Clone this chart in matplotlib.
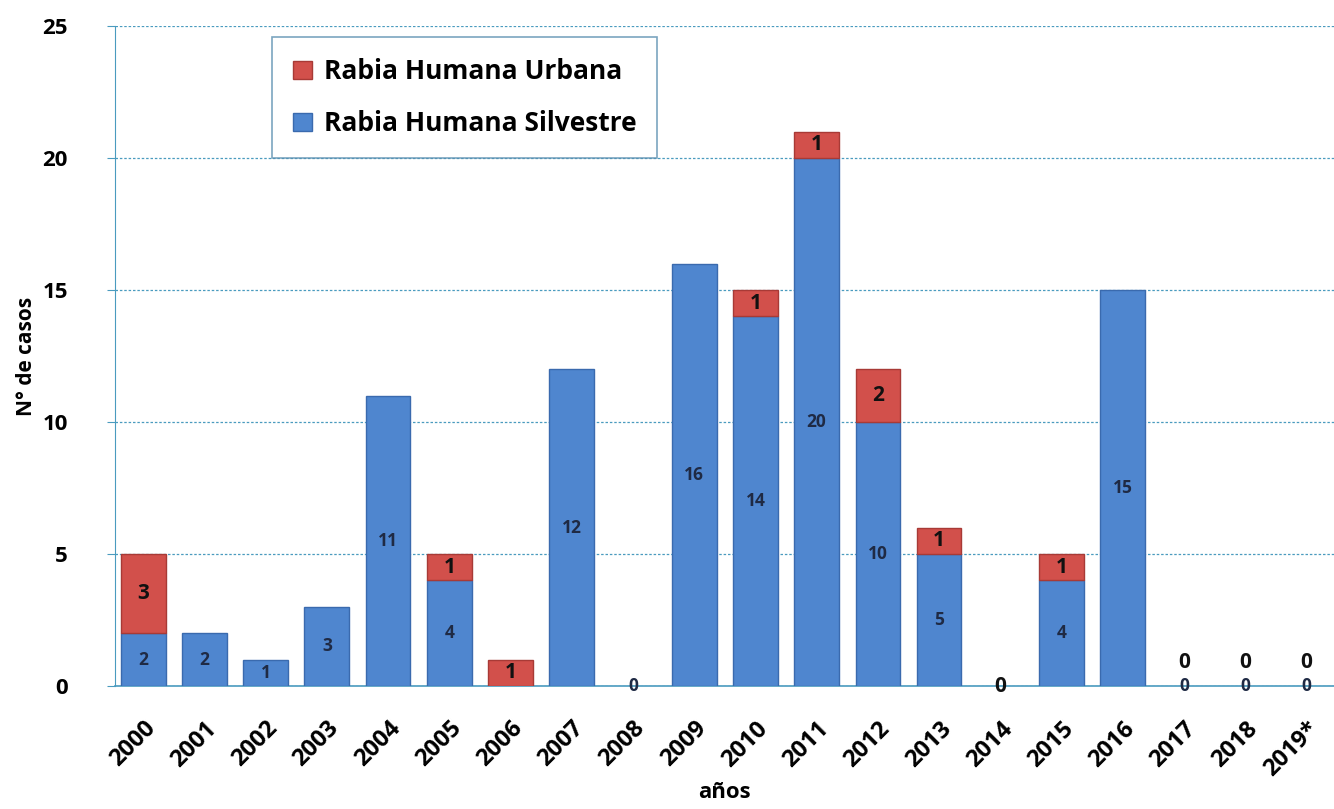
import matplotlib
matplotlib.use("Agg")
import matplotlib.pyplot as plt
import numpy as np

years = ["2000", "2001", "2002", "2003", "2004", "2005", "2006", "2007", "2008", "2009",
         "2010", "2011", "2012", "2013", "2014", "2015", "2016", "2017", "2018", "2019*"]
silvestre = [2, 2, 1, 3, 11, 4, 0, 12, 0, 16, 14, 20, 10, 5, 0, 4, 15, 0, 0, 0]
urbana = [3, 0, 0, 0, 0, 1, 1, 0, 0, 0, 1, 1, 2, 1, 0, 1, 0, 0, 0, 0]
# labels as printed in the chart (None = no label)
silvestre_labels = ["2", "2", "1", "3", "11", "4", None, "12", "0", "16",
                    "14", "20", "10", "5", None, "4", "15", "0", "0", "0"]
urbana_labels = ["3", None, None, None, None, "1", "1", None, None, None,
                 "1", "1", "2", "1", "0", "1", None, "0", "0", "0"]

plt.rcParams['font.family'] = ['Open Sans', 'DejaVu Sans']

fig = plt.figure(figsize=(13.34, 8.09), dpi=100)
ax = fig.add_axes([0.0862, 0.152, 0.9138, 0.816])

x = np.arange(len(years))
w = 0.73
blue = '#4F86CF'
red = '#D2504B'
s_arr = np.array(silvestre)
u_arr = np.array(urbana)
ax.bar(x, s_arr, w, color=blue, edgecolor='#3A6AAE',
       linewidth=np.where(s_arr > 0, 1.0, 0.0), zorder=3,
       label='Rabia Humana Silvestre')
ax.bar(x, u_arr, w, bottom=s_arr, color=red, edgecolor='#A83A36',
       linewidth=np.where(u_arr > 0, 1.0, 0.0), zorder=3,
       label='Rabia Humana Urbana')

for i in range(len(years)):
    s = silvestre[i]
    u = urbana[i]
    sl = silvestre_labels[i]
    ul = urbana_labels[i]
    if sl is not None:
        ax.text(x[i], s / 2 if s > 0 else 0, sl, ha='center', va='center', fontsize=12.5,
                fontweight='bold', color='#1F2A44', zorder=5)
    if ul is not None:
        if u > 0:
            yy = s + u / 2
        elif sl is None:
            yy = 0
        else:
            yy = 0.9
        ax.text(x[i], yy, ul, ha='center', va='center', fontsize=15,
                fontweight='bold', color='#111111', zorder=5)

ax.set_ylim(0, 25)
ax.set_xlim(-0.46, 19.45)
ax.set_yticks([0, 5, 10, 15, 20, 25])
ax.yaxis.grid(True, linestyle=(0, (2, 1.5)), color='#4A9BBF', linewidth=0.9, zorder=0)
ax.set_axisbelow(True)

ax.set_xticks(x)
ax.set_xticklabels(years, rotation=45, ha='right', rotation_mode='anchor',
                   fontsize=17, fontweight='bold')
for lab in ax.get_yticklabels():
    lab.set_fontsize(16)
    lab.set_fontweight('bold')
ax.tick_params(axis='x', length=0, pad=22)
ax.tick_params(axis='y', length=6, color='#4A9BBF', pad=28)

for sp in ['top', 'right']:
    ax.spines[sp].set_visible(False)
ax.spines['left'].set_color('#4A9BBF')
ax.spines['bottom'].set_color('#4A9BBF')
ax.spines['bottom'].set_linewidth(1.2)

ax.set_xlabel('años', fontsize=16, fontweight='bold', labelpad=1)
ax.set_ylabel('N° de casos', fontsize=15, fontweight='bold', labelpad=4)

handles, labels = ax.get_legend_handles_labels()
leg = ax.legend(handles[::-1], labels[::-1], loc='upper left',
                bbox_to_anchor=(0.129, 0.983), prop={'weight': 'bold', 'size': 19},
                frameon=True, fancybox=False, edgecolor='#5A8FB0',
                handlelength=0.7, handleheight=0.7, handletextpad=0.45,
                labelspacing=0.95, borderpad=0.8, borderaxespad=0)
leg.get_frame().set_linewidth(1.2)

fig.savefig('out.png', dpi=100)
